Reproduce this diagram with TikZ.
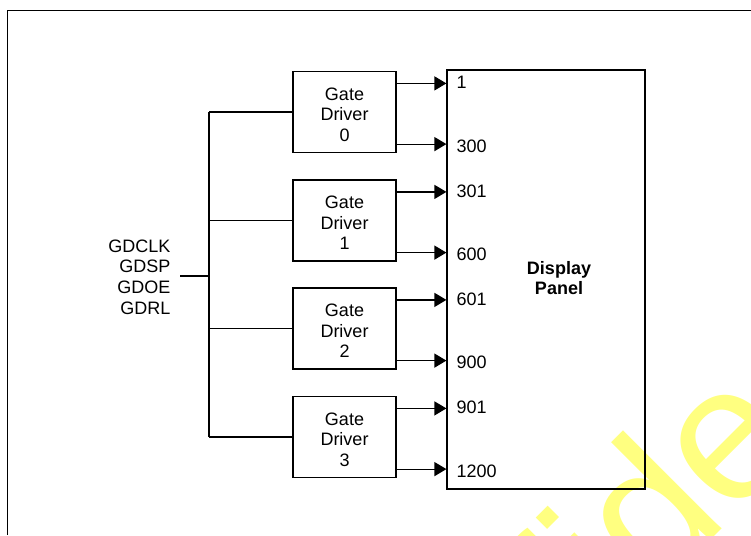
\documentclass[tikz,border=0pt]{standalone}
\usepackage{fontspec}
\setmainfont{Liberation Sans}
\usetikzlibrary{arrows.meta,calc}
\definecolor{wm}{RGB}{255,255,128}
\begin{document}
\begin{tikzpicture}[x=1pt,y=-1pt, line width=1.2pt,
  txt/.style={font=\fontsize{18}{20.6}\selectfont},
  gatebox/.style={draw, minimum width=103pt, minimum height=81pt, inner sep=0pt},
  gtext/.style={txt, inner sep=0pt, align=center},
  num/.style={txt, anchor=west, inner sep=0pt},
  arr/.style={-{Triangle[length=12pt,width=14pt]}}]
\useasboundingbox (0,0) rectangle (751,535);
% watermark (only its visible part)
\begin{scope}
\clip (0,0) rectangle (751,535);
\node[anchor=base west, inner sep=0pt, rotate=45, text=wm, font=\fontsize{192}{192}\selectfont] (wmark) at (587,664) {fide};
\end{scope}
% frame
\draw (7.5,535) -- (7.5,10.5) -- (751,10.5);
% panel
\node[draw, minimum width=198pt, minimum height=419pt, inner sep=0pt] (panel) at (546,279.5) {};
\node[txt, font=\bfseries\fontsize{18}{20.6}\selectfont, align=center, inner sep=0pt] (ptext) at ($(panel.center)+(13,-1.5)$) {Display\\Panel};
% gate drivers
\node[gatebox] (g0) at (344.5,112) {};
\node[gatebox] (g1) at (344.5,220.5) {};
\node[gatebox] (g2) at (344.5,328.5) {};
\node[gatebox] (g3) at (344.5,437) {};
\foreach \g/\n in {g0/0,g1/1,g2/2,g3/3}{
  \node[gtext] (\g x) at ($(\g.center)+(0,2.6)$) {Gate\\Driver\\\n};
}
% signals
\node[txt, anchor=east, align=right, inner sep=0pt] (sig) at (171,277) {GDCLK\\GDSP\\GDOE\\GDRL};
\coordinate (src) at (180,276);
\coordinate (bus) at (209,276);
\draw (src) -- (bus);
\draw (bus |- g0.west) -- (bus |- g3.west);
\foreach \g in {g0,g1,g2,g3}{
  \draw (bus |- \g.west) -- (\g.west);
}
% outputs
\foreach \g/\a/\b in {g0/1/300, g1/301/600, g2/601/900, g3/901/1200}{
  \coordinate (\g t) at ([yshift=-12.5pt]\g.north east);
  \coordinate (\g b) at ([yshift=9pt]\g.south east);
  \draw[arr] (\g t) -- (\g t -| panel.west);
  \draw[arr] (\g b) -- (\g b -| panel.west);
  \node[num] (\g ta) at ($(\g t -| panel.west)+(9.5,-0.8)$) {\a};
  \node[num] (\g ba) at ($(\g b -| panel.west)+(9.5,1.8)$) {\b};
}
\end{tikzpicture}
\end{document}
